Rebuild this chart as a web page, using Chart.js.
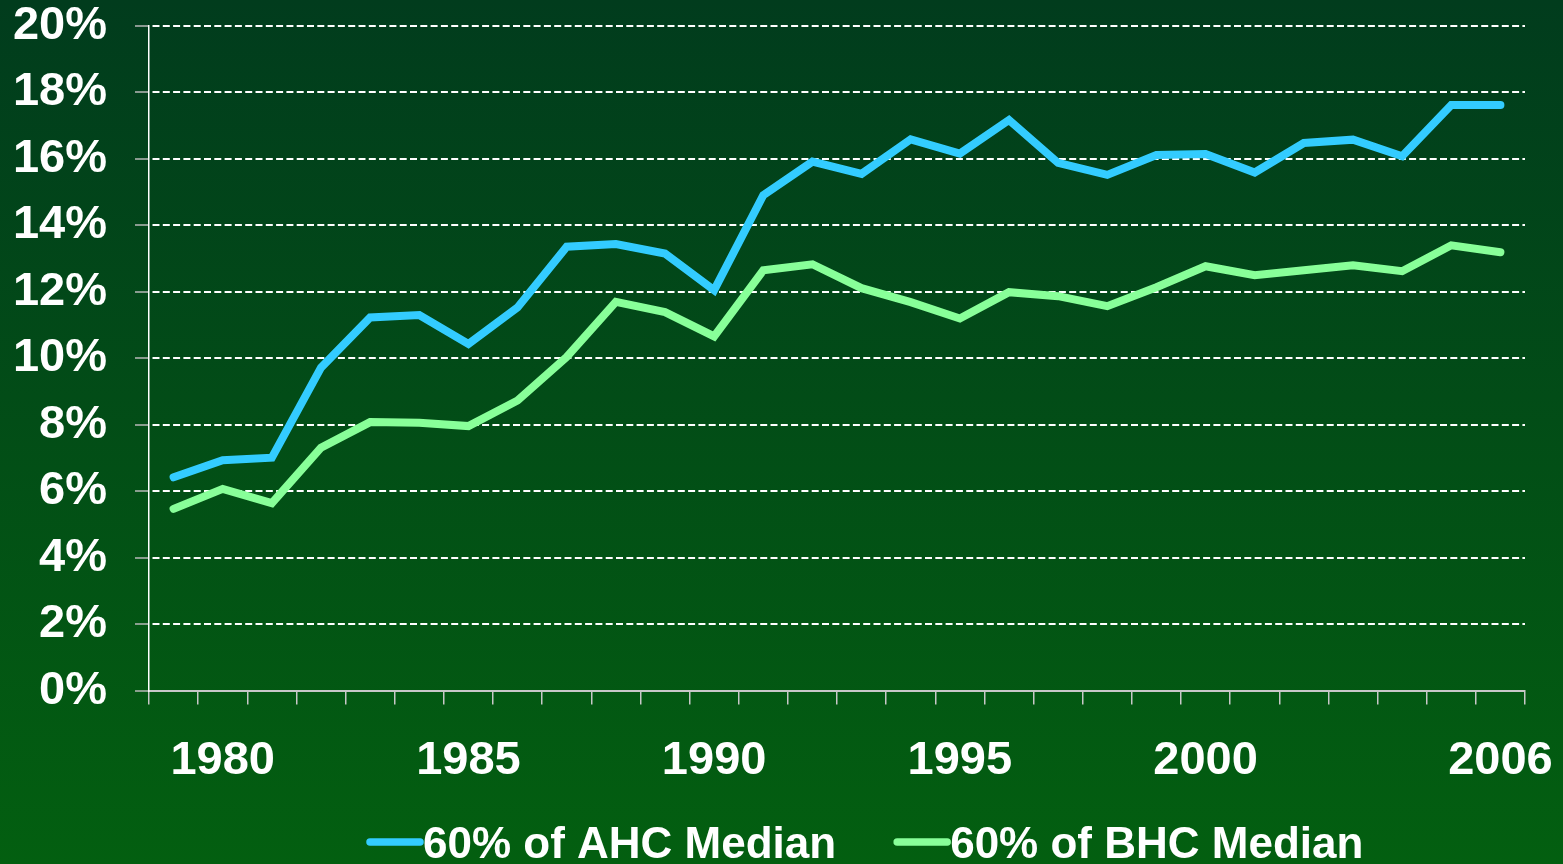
<!DOCTYPE html>
<html>
<head>
<meta charset="utf-8">
<title>Low income: 60% of AHC / BHC median</title>
<script src="https://cdn.jsdelivr.net/npm/chart.js@4"></script>
<style>
  html, body {
    margin: 0;
    padding: 0;
    width: 1563px;
    height: 864px;
    overflow: hidden;
    background: linear-gradient(#013c1d, #035f10);
  }
  canvas { display: block; }
</style>
</head>
<body>
<canvas id="povertyChart" width="1563" height="864"></canvas>
<script>
// Years on the x axis (one category per year)
const years = ['1979', '1980', '1981', '1982', '1983', '1984', '1985', '1986', '1987', '1988',
  '1989', '1990', '1991', '1992', '1993', '1994', '1995', '1996', '1997', '1998',
  '1999', '2000', '2001', '2002', '2003', '2004', '2005', '2006'];

// Only these years get a label under the axis
const labelledYears = ['1980', '1985', '1990', '1995', '2000', '2006'];

// Percentage below 60% of median income, after housing costs
const ahcValues = [6.42, 6.93, 7.01, 9.72, 11.23, 11.30, 10.43, 11.53, 13.36, 13.44,
  13.15, 12.05, 14.91, 15.92, 15.55, 16.59, 16.16, 17.17, 15.88, 15.52,
  16.12, 16.15, 15.59, 16.48, 16.58, 16.08, 17.62, 17.62];

// Percentage below 60% of median income, before housing costs
const bhcValues = [5.47, 6.07, 5.64, 7.31, 8.08, 8.06, 7.96, 8.73, 10.04, 11.70,
  11.39, 10.66, 12.65, 12.83, 12.11, 11.69, 11.20, 11.99, 11.87, 11.57,
  12.14, 12.77, 12.50, 12.65, 12.80, 12.62, 13.40, 13.19];

const seriesLabels = ['60% of AHC Median', '60% of BHC Median'];

const fontFamily = '"Liberation Sans", Arial, Helvetica, sans-serif';

// Legend drawn by hand: a short thick line right against its label
const lineLegend = {
  id: 'lineLegend',
  afterDraw(chart) {
    const ctx = chart.ctx;
    ctx.save();
    ctx.font = 'bold 44px ' + fontFamily;
    ctx.textBaseline = 'alphabetic';
    ctx.textAlign = 'left';
    let x = 367;
    const lineY = chart.height - 22;
    chart.data.datasets.forEach(ds => {
      ctx.strokeStyle = ds.borderColor;
      ctx.lineWidth = 7.5;
      ctx.lineCap = 'round';
      ctx.beginPath();
      ctx.moveTo(x + 3, lineY);
      ctx.lineTo(x + 53, lineY);
      ctx.stroke();
      ctx.fillStyle = '#ffffff';
      ctx.fillText(ds.label, x + 56, lineY + 16);
      x += 56 + ctx.measureText(ds.label).width + 58;
    });
    ctx.restore();
  }
};

// big tick labels would otherwise push the plot area in
const noLabelPadding = scale => {
  scale.paddingTop = 0;
  scale.paddingBottom = 0;
  scale.paddingLeft = 0;
  scale.paddingRight = 0;
};

const ctx = document.getElementById('povertyChart').getContext('2d');
new Chart(ctx, {
  type: 'line',
  data: {
    labels: years,
    datasets: [
      {
        label: seriesLabels[0],
        data: ahcValues,
        borderColor: '#33ccff',
        backgroundColor: '#33ccff',
        borderWidth: 8,
        pointRadius: 0,
        borderCapStyle: 'round',
        tension: 0,
      },
      {
        label: seriesLabels[1],
        data: bhcValues,
        borderColor: '#88ff99',
        backgroundColor: '#88ff99',
        borderWidth: 8,
        pointRadius: 0,
        borderCapStyle: 'round',
        tension: 0,
      },
    ],
  },
  options: {
    responsive: false,
    animation: false,
    devicePixelRatio: 1,
    layout: {
      padding: { left: 0, right: 38, top: 26, bottom: 47 },
    },
    plugins: {
      legend: { display: false },
      tooltip: { enabled: false },
    },
    scales: {
      x: {
        offset: true,
        afterFit: noLabelPadding,
        grid: {
          offset: true,
          drawOnChartArea: false,
          drawTicks: true,
          tickLength: 14,
          color: '#c8c8c8',
          tickColor: '#c8c8c8',
          lineWidth: 1.5,
        },
        border: { display: true, color: '#c8c8c8', width: 2 },
        ticks: {
          autoSkip: false,
          maxRotation: 0,
          padding: 28,
          color: '#ffffff',
          font: { family: fontFamily, size: 47, weight: 'bold', lineHeight: 1.2 },
          callback: function (value) {
            const y = this.getLabelForValue(value);
            return labelledYears.includes(y) ? y : '';
          },
        },
      },
      y: {
        min: 0,
        max: 20,
        afterFit: scale => {
          scale.width = 149;
          noLabelPadding(scale);
        },
        grid: {
          color: '#ffffff',
          lineWidth: 2,
          drawTicks: true,
          tickLength: 14,
          tickColor: '#b8b8b8',
          tickWidth: 1.5,
          tickBorderDash: [],
        },
        border: { display: true, color: '#ffffff', width: 1.5, dash: [7, 3.3], dashOffset: -3 },
        ticks: {
          stepSize: 2,
          padding: 28,
          color: '#ffffff',
          font: { family: fontFamily, size: 47, weight: 'bold', lineHeight: 1.0 },
          callback: v => v + '%',
        },
      },
    },
  },
  plugins: [lineLegend],
});
</script>
</body>
</html>
